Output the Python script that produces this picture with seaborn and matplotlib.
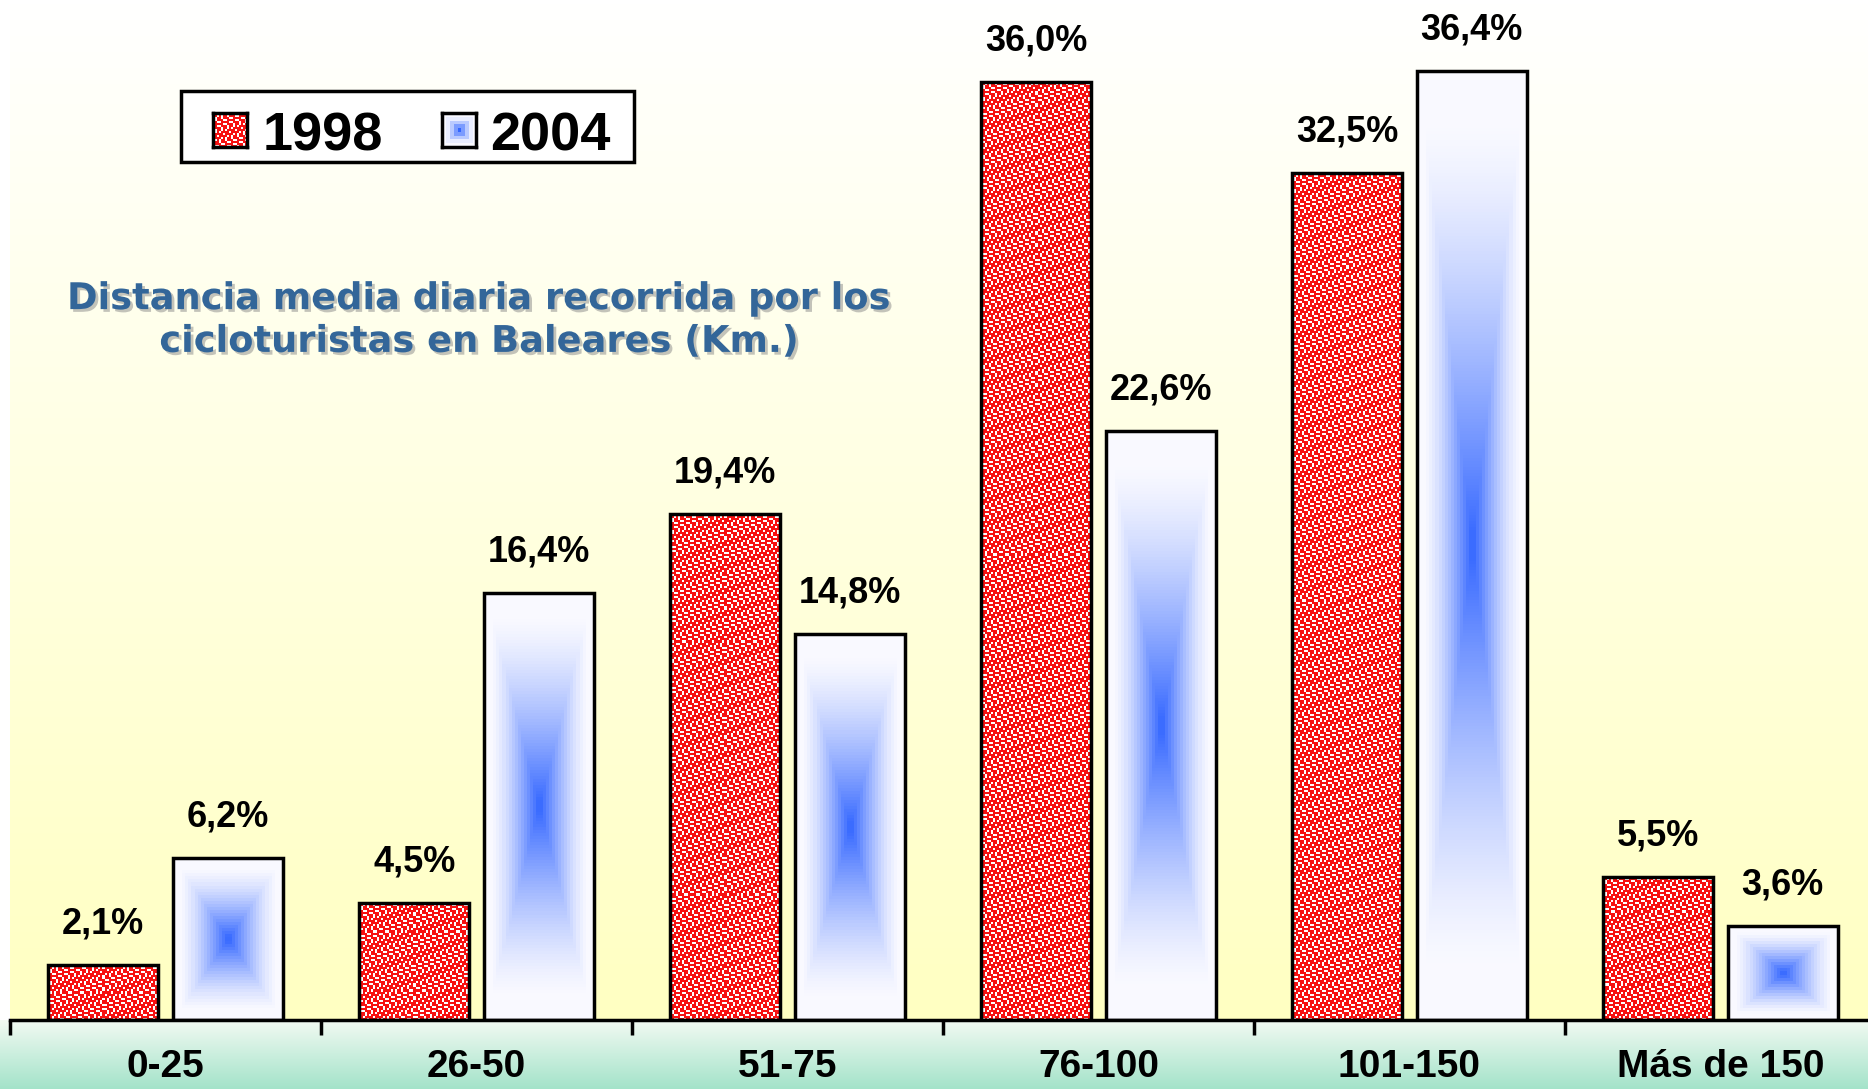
import numpy as np
import pandas as pd
import matplotlib
matplotlib.use("Agg")
import matplotlib.pyplot as plt
import matplotlib.patheffects as pe
from matplotlib.patches import Rectangle
import seaborn as sns

# datos
categorias = ["0-25", "26-50", "51-75", "76-100", "101-150", "Más de 150"]
pct_1998 = [2.1, 4.5, 19.4, 36.0, 32.5, 5.5]
pct_2004 = [6.2, 16.4, 14.8, 22.6, 36.4, 3.6]
anios = ["1998", "2004"]

W, H = 1868, 1089
YMAX = 39.14
plt.rcParams["font.family"] = ["Liberation Sans", "DejaVu Sans"]

RED = np.array([0.97, 0.07, 0.07])
BLUE = np.array([0.20, 0.40, 1.00])
WHITE = np.array([0.98, 0.98, 1.00])


def speckle(nr, nc):
    # textura roja punteada
    i, j = np.indices((nr, nc))
    white = ((i + 2 * j) % 5 == 0) | ((3 * i + j) % 7 == 0)
    return np.where(white[..., None], np.ones(3), RED)


def box_gradient(nr, nc):
    # degradado rectangular desde el centro
    y = np.linspace(-1, 1, nr)
    x = np.linspace(-1, 1, nc)
    X, Y = np.meshgrid(x, y)
    t = np.maximum(np.abs(X), np.abs(Y))
    s = np.clip(1 - t / 0.9, 0, 1) ** 1.4
    return WHITE * (1 - s[..., None]) + BLUE * s[..., None]


def vgrad(top, bottom, n=256):
    top, bottom = np.array(top), np.array(bottom)
    k = np.linspace(0, 1, n)[:, None]
    return (top * (1 - k) + bottom * k)[:, None, :]


fig = plt.figure(figsize=(W / 100, H / 100), dpi=100)

# banda verde inferior
bax = fig.add_axes([0, 0, 1, 69 / H])
bax.imshow(vgrad([0.95, 0.98, 0.95], [0.64, 0.89, 0.79]), aspect="auto", extent=(0, 1, 0, 1))
bax.axis("off")

ax = fig.add_axes([10 / W, 69 / H, 1866 / W, 1020 / H])

df = pd.DataFrame({
    "rango": categorias * 2,
    "pct": pct_1998 + pct_2004,
    "anio": [anios[0]] * len(categorias) + [anios[1]] * len(categorias),
})

sns.barplot(data=df, x="rango", y="pct", hue="anio", palette=["#E83A3A", "#8FA8FF"],
            width=0.8, gap=0.115, edgecolor="black", linewidth=2.5,
            errorbar=None, legend=False, ax=ax)

# fondo amarillo degradado
ax.imshow(vgrad([1.0, 1.0, 1.0], [1.0, 1.0, 0.76]), aspect="auto",
          extent=(-0.5, 5.5, 0, YMAX), zorder=0)

px_x = 1866 / 6
px_y = 1020 / YMAX
for k, cont in enumerate(ax.containers):
    for bar in cont:
        x0, w, h = bar.get_x(), bar.get_width(), bar.get_height()
        if k == 0:
            img = speckle(max(int(h * px_y / 2), 1), max(int(w * px_x / 2), 1))
        else:
            img = box_gradient(max(int(h * px_y / 3), 2), max(int(w * px_x / 3), 2))
        ax.imshow(img, extent=(x0, x0 + w, 0, h), aspect="auto",
                  interpolation="nearest", zorder=2)
        bar.set_facecolor("none")
        bar.set_zorder(3)
    vals = pct_1998 if k == 0 else pct_2004
    ax.bar_label(cont, labels=[f"{v:.1f}".replace(".", ",") + "%" for v in vals],
                 padding=17, fontsize=26, fontweight="bold", zorder=5)

ax.set_xlim(-0.5, 5.5)
ax.set_ylim(0, YMAX)
ax.set_xlabel("")
ax.set_ylabel("")
ax.set_yticks([])
ax.set_xticks(range(len(categorias)))
ax.set_xticklabels(categorias, fontsize=28, fontweight="bold")
ax.set_xticks(np.arange(-0.5, len(categorias), 1), minor=True)
ax.tick_params(axis="x", which="major", length=0, pad=21)
ax.tick_params(axis="x", which="minor", length=11, width=2.5, direction="out", color="black")
for s in ["left", "right", "top"]:
    ax.spines[s].set_visible(False)
ax.spines["bottom"].set_linewidth(2.5)
ax.spines["bottom"].set_color("black")
ax.set_facecolor("none")

# titulo
fig.text(479 / W, 1 - 320 / H,
         "Distancia media diaria recorrida por los\ncicloturistas en Baleares (Km.)",
         ha="center", va="center", fontsize=26.5, fontweight="bold", family="DejaVu Sans",
         color="#336699", linespacing=1.2,
         path_effects=[pe.withSimplePatchShadow(offset=(2, -2), shadow_rgbFace="#888888", alpha=0.5)])

# leyenda dibujada a mano
fig.add_artist(Rectangle((181 / W, 1 - 162 / H), (634 - 181) / W, (162 - 91) / H,
                         transform=fig.transFigure, facecolor="white",
                         edgecolor="black", linewidth=2.5, zorder=4))
for x_h, x_t, lab, img in [(213, 263, anios[0], speckle(17, 17)),
                            (442, 490, anios[1], box_gradient(9, 9))]:
    hax = fig.add_axes([x_h / W, 1 - 147 / H, 34 / W, 34 / H])
    hax.imshow(img, aspect="auto", interpolation="nearest")
    hax.set_xticks([])
    hax.set_yticks([])
    for sp in hax.spines.values():
        sp.set_linewidth(2.5)
    hax.set_zorder(5)
    fig.text(x_t / W, 1 - 150 / H, lab, fontsize=39, fontweight="bold",
             va="baseline", ha="left", zorder=6)

fig.savefig("out.png", dpi=100)
